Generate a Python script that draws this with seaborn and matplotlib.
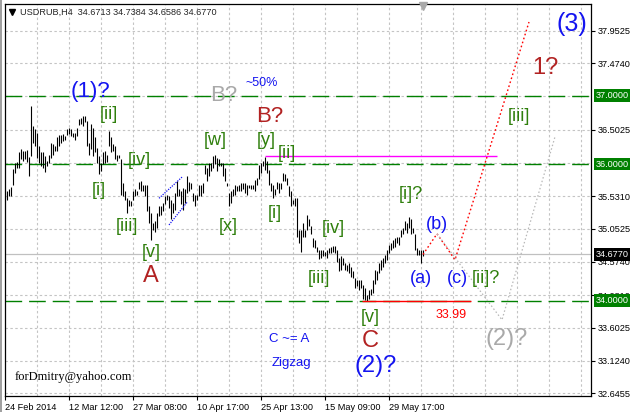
import matplotlib
matplotlib.use("Agg")
import matplotlib.pyplot as plt
import matplotlib.transforms as mtransforms
from matplotlib.patches import Rectangle
import numpy as np
import pandas as pd
import seaborn as sns

# ---------------- data ----------------
symbol = "USDRUB,H4"
last_open, last_high, last_low, last_close = 34.6713, 34.7384, 34.6586, 34.6770

# H4 bar highs / lows (oldest first); the final bar is appended from the quote above
bar_highs = [
    35.59, 35.60, 35.63, 35.67, 35.93, 36.02, 36.03, 36.18, 36.22, 36.19,
    36.19, 36.20, 36.10, 36.85, 36.56, 36.51, 36.46, 36.26, 36.17, 36.17,
    36.12, 36.04, 36.14, 36.31, 36.29, 36.26, 36.39, 36.42, 36.42, 36.44,
    36.41, 36.51, 36.53, 36.51, 36.46,
    36.46, 36.53, 36.66, 36.67, 36.70, 36.70, 36.63, 36.31, 36.58, 36.53,
    36.39, 36.24, 36.12, 36.02, 36.17, 36.19, 36.14, 36.49, 36.39, 36.29,
    36.26, 36.14, 36.13, 36.07, 35.73, 35.60, 35.50, 35.48, 35.46, 35.60,
    35.63, 35.60, 35.74, 35.75, 35.70,
    35.69, 35.70, 35.38, 35.28, 35.14, 35.16, 35.28, 35.38, 35.38, 35.43,
    35.53, 35.55, 35.53, 35.48, 35.43, 35.58, 35.75, 35.63, 35.60, 35.65,
    35.63, 35.82, 35.74, 35.72, 35.58, 35.55, 35.55, 35.69, 35.70, 35.73,
    35.99, 35.95, 36.02, 36.02, 36.12,
    36.13, 36.09, 36.07, 36.02, 36.02, 35.95, 35.73, 35.58, 35.60, 35.63,
    35.70, 35.68, 35.69, 35.72, 35.73, 35.73, 35.69, 35.70, 35.70, 35.70,
    35.77, 35.80, 35.99, 36.02, 36.04, 36.10, 36.04, 35.92, 35.73, 35.70,
    35.63, 35.74, 35.73, 35.72, 35.87,
    35.85, 35.80, 35.68, 35.60, 35.48, 35.50, 35.50, 35.04, 35.04, 35.14,
    35.04, 35.26, 35.19, 35.09, 34.92, 34.89, 34.79, 34.75, 34.75, 34.74,
    34.72, 34.74, 34.77, 34.79, 34.80, 34.80, 34.75, 34.62, 34.65, 34.62,
    34.55, 34.52, 34.55, 34.50, 34.43,
    34.33, 34.31, 34.30, 34.30, 34.23, 34.18, 34.08, 34.16, 34.17, 34.30,
    34.45, 34.43, 34.55, 34.60, 34.62, 34.67, 34.75, 34.82, 34.84, 34.89,
    34.92, 34.94, 34.94, 35.04, 35.06, 35.16, 35.14, 35.23, 35.19, 35.06,
    34.97, 34.77, 34.75, 34.75,
]
bar_lows = [
    35.50, 35.48, 35.53, 35.54, 35.70, 35.87, 35.95, 35.95, 36.07, 36.04,
    36.08, 36.03, 35.83, 36.12, 36.31, 36.26, 36.09, 36.02, 35.97, 35.95,
    35.88, 35.97, 36.02, 36.09, 36.14, 36.19, 36.19, 36.26, 36.31, 36.34,
    36.36, 36.42, 36.44, 36.41, 36.39,
    36.36, 36.41, 36.57, 36.58, 36.56, 36.61, 36.26, 36.14, 36.22, 36.12,
    36.17, 36.02, 35.85, 35.90, 36.00, 36.02, 36.03, 36.26, 36.17, 36.19,
    36.07, 36.04, 36.09, 35.55, 35.54, 35.48, 35.28, 35.38, 35.38, 35.48,
    35.53, 35.55, 35.63, 35.60, 35.60,
    35.53, 35.31, 35.14, 34.89, 35.04, 35.01, 35.06, 35.24, 35.26, 35.31,
    35.41, 35.48, 35.36, 35.19, 35.28, 35.33, 35.53, 35.53, 35.41, 35.33,
    35.43, 35.58, 35.60, 35.63, 35.46, 35.38, 35.48, 35.54, 35.54, 35.58,
    35.85, 35.75, 35.82, 35.90, 35.95,
    36.00, 35.90, 35.97, 35.97, 35.82, 35.75, 35.68, 35.38, 35.43, 35.53,
    35.55, 35.60, 35.60, 35.60, 35.63, 35.58, 35.55, 35.65, 35.64, 35.63,
    35.60, 35.70, 35.78, 35.87, 35.97, 35.92, 35.87, 35.70, 35.60, 35.50,
    35.55, 35.63, 35.58, 35.63, 35.75,
    35.75, 35.70, 35.53, 35.38, 35.41, 35.38, 34.94, 34.84, 34.71, 34.94,
    34.94, 35.04, 35.09, 34.97, 34.79, 34.77, 34.72, 34.61, 34.62, 34.65,
    34.65, 34.62, 34.70, 34.70, 34.72, 34.70, 34.57, 34.43, 34.45, 34.52,
    34.45, 34.43, 34.40, 34.35, 34.33,
    34.18, 34.21, 34.16, 34.18, 34.03, 34.01, 33.99, 34.03, 34.08, 34.11,
    34.25, 34.30, 34.40, 34.45, 34.50, 34.55, 34.60, 34.70, 34.75, 34.77,
    34.79, 34.84, 34.82, 34.94, 34.97, 35.04, 34.99, 35.06, 34.97, 34.99,
    34.75, 34.67, 34.67, 34.55,
]

date_labels = ["24 Feb 2014", "12 Mar 12:00", "27 Mar 08:00", "10 Apr 17:00",
               "25 Apr 13:00", "15 May 09:00", "29 May 17:00"]
bars_per_label = 32

key_levels = [37.0, 36.0, 34.0]
resistance_level = 36.12
wave_c_low = 33.99

grid_prices = [32.6455, 33.1240, 33.6025, 34.0810, 34.5740, 35.0525,
               35.5310, 36.0095, 36.5025, 36.9955, 37.4740, 37.9525]
hidden_labels = [36.0095, 36.9955]

# projected wave paths: (bar index, price)
main_path_bars = [209, 216, 225, 262]
main_path_prices = [last_close, 34.98, 34.60, 38.08]
alt_path_bars = [216, 248.5, 275]
alt_path_prices = [34.98, 33.72, 36.40]

# diagonal channel drawn inside wave [iv]
wedge_upper_bars, wedge_upper_prices = [77, 88.5], [35.50, 35.81]
wedge_lower_bars, wedge_lower_prices = [82, 91], [35.11, 35.44]

# ---------------- styling ----------------
sns.set_style("white")
plt.rcParams["font.family"] = ["Liberation Sans", "DejaVu Sans"]

GREEN_LBL = "#2f7f0c"
BLUE = "#1414f0"
RED_LBL = "#b22222"
GRAY_LBL = "#a9a9a9"

highs = np.array(bar_highs + [last_high])
lows = np.array(bar_lows + [last_low])
idx = np.arange(len(highs))
bars = pd.DataFrame({"bar": idx, "high": highs, "low": lows})

W, H = 630, 412
fig = plt.figure(figsize=(W / 100, H / 100), dpi=100)
ax = fig.add_axes([4.5 / W, 16.5 / H, 586.5 / W, 392 / H])
ax.set_facecolor("white")

# window border strip on the far left
fig.patches.append(Rectangle((0, 0), 2 / W, 1, transform=fig.transFigure,
                             fc="#a0a0a0", ec="none", zorder=0))

ax.set_xlim(-0.25, 293)
ax.set_ylim(32.613, 38.351)

# grid
for p in grid_prices:
    ax.axhline(p, color="#c4c4c4", lw=0.8, ls=(0, (2.2, 2.2)), zorder=0)
for b in range(16, 293, 16):
    ax.axvline(b, color="#c4c4c4", lw=0.8, ls=(0, (2.2, 2.2)), zorder=0)

# current price line
ax.axhline(last_close, color="#c0c0c0", lw=0.9, zorder=1)

# key horizontal levels
for lvl in key_levels:
    ax.axhline(lvl, color="#008000", lw=1.0, ls=(0, (12, 5)), zorder=2)

# price bars
ax.vlines(bars["bar"], bars["low"], bars["high"], color="black", lw=0.8, zorder=3)

# resistance and wave C low
ax.hlines(resistance_level, 130, 246, color="#ff00ff", lw=1.0, zorder=4)
ax.hlines(wave_c_low, 178.5, 233, color="#ff0000", lw=1.0, zorder=4)

# projected paths
sns.lineplot(x=main_path_bars, y=main_path_prices, ax=ax, color="#ff0000",
             lw=1.0, linestyle=(0, (1.2, 1.8)), sort=False, zorder=4)
sns.lineplot(x=alt_path_bars, y=alt_path_prices, ax=ax, color="#b8b8b8",
             lw=0.9, linestyle=(0, (1.2, 1.8)), sort=False, zorder=4)
sns.lineplot(x=wedge_upper_bars, y=wedge_upper_prices, ax=ax, color=BLUE,
             lw=0.9, linestyle=(0, (1.0, 1.0)), sort=False, zorder=4)
sns.lineplot(x=wedge_lower_bars, y=wedge_lower_prices, ax=ax, color=BLUE,
             lw=0.9, linestyle=(0, (1.0, 1.0)), sort=False, zorder=4)

# wave labels
labels = [
    ("(1)?", 43, 37.07, BLUE, 16),
    ("B?", 109.5, 37.01, GRAY_LBL, 16),
    ("~50%", 128.5, 37.19, BLUE, 9),
    ("B?", 132.5, 36.70, RED_LBL, 16),
    ("[ii]", 52, 36.72, GREEN_LBL, 13),
    ("[w]", 105, 36.35, GREEN_LBL, 13),
    ("[y]", 130.5, 36.35, GREEN_LBL, 13),
    ("[ii]", 141, 36.15, GREEN_LBL, 13),
    ("[iv]", 67, 36.05, GREEN_LBL, 13),
    ("[i]", 47, 35.61, GREEN_LBL, 13),
    ("[iii]", 61, 35.08, GREEN_LBL, 13),
    ("[v]", 73, 34.71, GREEN_LBL, 13),
    ("A", 73, 34.36, RED_LBL, 17),
    ("[x]", 111.5, 35.08, GREEN_LBL, 13),
    ("[i]", 135, 35.27, GREEN_LBL, 13),
    ("[iv]", 164, 35.06, GREEN_LBL, 13),
    ("[iii]", 157, 34.33, GREEN_LBL, 13),
    ("[i]?", 203, 35.55, GREEN_LBL, 13),
    ("(b)", 216, 35.12, BLUE, 13),
    ("(a)", 208, 34.33, BLUE, 13),
    ("(c)", 226, 34.33, BLUE, 13),
    ("[ii]?", 240.5, 34.33, GREEN_LBL, 13),
    ("[v]", 182.5, 33.76, GREEN_LBL, 13),
    ("C", 182.5, 33.41, RED_LBL, 17),
    ("(2)?", 185.5, 33.05, BLUE, 17),
    ("(2)?", 251, 33.44, GRAY_LBL, 17),
    ("33.99", 223, 33.79, "#ff0000", 9),
    ("C ~= A", 142, 33.44, BLUE, 9.5),
    ("Zigzag", 143, 33.09, BLUE, 9.5),
    ("(3)", 283.5, 38.05, BLUE, 18),
    ("1?", 270, 37.41, RED_LBL, 17),
    ("[iii]", 257, 36.70, GREEN_LBL, 13),
]
for txt, b, p, col, size in labels:
    ax.text(b, p, txt, color=col, fontsize=size, ha="center", va="center", zorder=6)

ax.text(5, 32.88, "forDmitry@yahoo.com", color="black", fontsize=9,
        family="Liberation Serif", ha="left", va="center", zorder=6)

# header
ax.plot([0.0128], [0.978], marker="v", color="black", markersize=4.5,
        transform=ax.transAxes, clip_on=False, zorder=7)
ax.text(0.0264, 0.978,
        f"{symbol}  {last_open:.4f} {last_high:.4f} {last_low:.4f} {last_close:.4f}",
        transform=ax.transAxes, fontsize=6.6, ha="left", va="center", zorder=7)

# chart shift marker
top_tf = mtransforms.blended_transform_factory(ax.transData, ax.transAxes)
ax.plot([209], [0.994], marker="v", color="#a8a8a8", markersize=6,
        transform=top_tf, clip_on=False, zorder=7)

# axes
ax.yaxis.tick_right()
shown = [p for p in grid_prices if p not in hidden_labels]
ax.set_yticks(shown)
ax.set_yticklabels([f"{p:.4f}" for p in shown])
ax.set_xticks(np.arange(len(date_labels)) * bars_per_label)
ax.set_xticklabels(date_labels)
for lab in ax.get_xticklabels():
    lab.set_horizontalalignment("left")
ax.tick_params(axis="both", direction="out", length=3, width=0.8, pad=2,
               labelsize=6.6, colors="black")
ax.tick_params(axis="y", right=True, left=False, pad=2)
ax.tick_params(axis="x", bottom=True, pad=2.5)
for s in ax.spines.values():
    s.set_color("black")
    s.set_linewidth(0.9)
    s.set_visible(True)
ax.set_xlabel("")
ax.set_ylabel("")
if ax.get_legend() is not None:
    ax.get_legend().remove()

# price boxes on the right scale
right_tf = mtransforms.blended_transform_factory(ax.transAxes, ax.transData)
for lvl, fc in [(37.0, "#008000"), (36.0, "#008000"), (34.0, "#008000"), (last_close, "black")]:
    ax.annotate(f"{lvl:.4f}", xy=(1.0, lvl), xycoords=right_tf,
                xytext=(3.4, 0), textcoords="offset points",
                ha="left", va="center", fontsize=6.6, color="white",
                bbox=dict(boxstyle="square,pad=0.2", fc=fc, ec="none"),
                annotation_clip=False, zorder=10)

fig.savefig("out.png", dpi=100)
